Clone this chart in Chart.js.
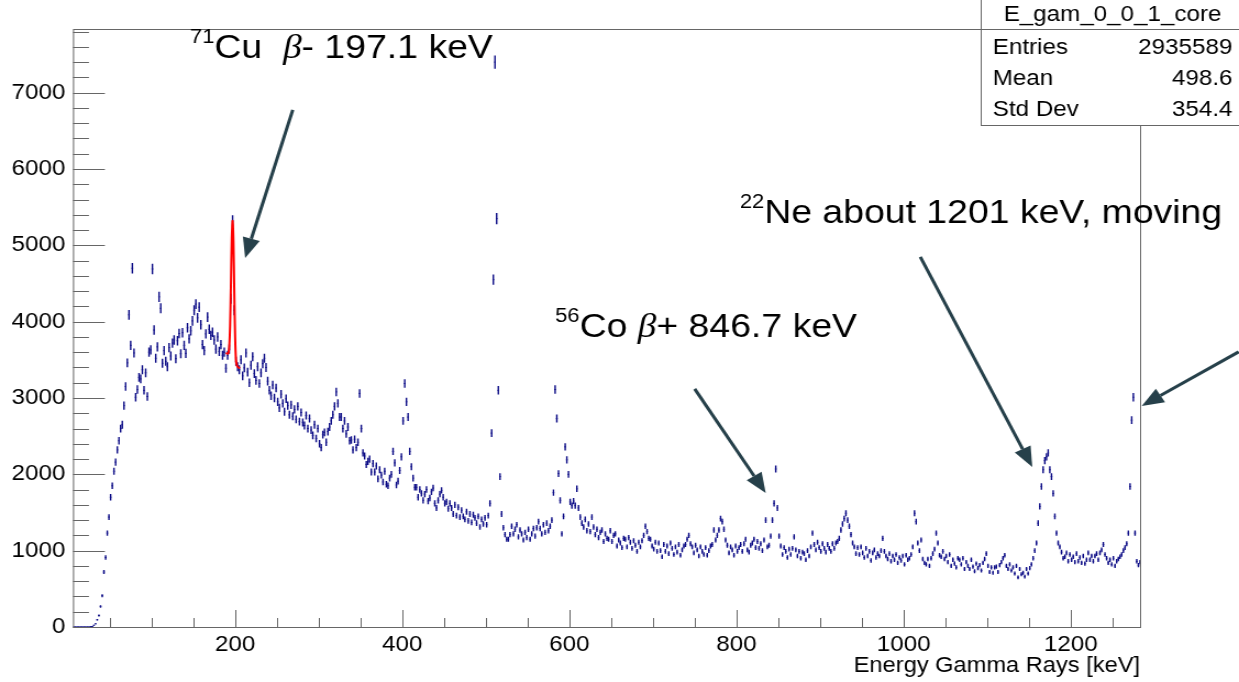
<!DOCTYPE html>
<html>
<head>
<meta charset="utf-8">
<script src="https://cdn.jsdelivr.net/npm/chart.js@4.4.0/dist/chart.umd.min.js"></script>
<style>
  html, body { margin: 0; padding: 0; background: #fff; overflow: hidden; }
  /* the reference picture is a bit wider than it is tall, so stretch the canvas sideways */
  #wrap { width: 1127px; height: 682px; transform: scaleX(1.09938); transform-origin: 0 0; }
</style>
</head>
<body>
<div id="wrap"><canvas id="spectrum"></canvas></div>
<script>
// 2 keV bins, centres 7, 9, 11 ... keV
const binStart = 7;
const binWidth = 2;

const counts7to205 = [
  0, 0, 0, 0, 0, 0, 0, 0, 0, 0,
  3, 6, 22, 41, 95, 150, 270, 410, 720, 910,
  1230, 1440, 1700, 1850, 2040, 2160, 2320, 2440, 2600, 2650,
  2900, 3150, 3460, 4090, 3690, 4700, 3590, 3010, 3110, 3270,
  3250, 3370, 3100, 3330, 3020, 3600, 3630, 4690, 3890, 3520,
  3670, 4325, 4175, 3455, 3620, 3480, 3410, 3660, 3550, 3720,
  3760, 3515, 3750, 3845, 3580, 3855, 3690, 3585, 3920, 3775,
  3880, 4010, 4150, 4230, 4050, 4190, 3960, 3700, 3620, 3840,
  4060, 3900, 3820, 3860, 3760, 3640, 3800, 3610, 3700, 3560,
  3600, 3390, 3560, 3640, 4300, 5320, 4150, 3480, 3410, 3370
];
const counts207to405 = [
  3500, 3290, 3395, 3590, 3340, 3200, 3430, 3540, 3320, 3230,
  3410, 3190, 3330, 3450, 3520, 3400, 3220, 3100, 3030, 3170,
  3000, 3130, 2950, 2870, 3050, 2930, 2820, 2990, 2900, 2780,
  2910, 2760, 2850, 2720, 2890, 2690, 2810, 2680, 2640, 2770,
  2600, 2730, 2580, 2510, 2650, 2470, 2600, 2400, 2350, 2520,
  2550, 2420, 2560, 2620, 2700, 2780, 2890, 3080, 2930, 2750,
  2750, 2600, 2700, 2530, 2620, 2440, 2450, 2320, 2460, 2350,
  2420, 3060, 2600, 2280, 2240, 2130, 2170, 2200, 2030, 2140,
  2030, 2110, 1940, 2060, 1990, 1900, 2040, 1870, 1850, 1950,
  2000, 2300, 2150, 1860, 1910, 2050, 2230, 2700, 3190, 2950
];
const counts407to605 = [
  2750, 2300, 2100, 1950, 1830, 1830, 1700, 1800, 1750, 1660,
  1740, 1800, 1650, 1690, 1770, 1820, 1620, 1560, 1660, 1740,
  1790, 1700, 1620, 1640, 1550, 1620, 1560, 1480, 1600, 1460,
  1570, 1440, 1530, 1450, 1410, 1510, 1390, 1480, 1370, 1470,
  1430, 1360, 1450, 1310, 1410, 1350, 1430, 1340, 1460, 1620,
  2540, 4550, 7400, 5350, 3100, 1970, 1480, 1300, 1210, 1150,
  1150, 1210, 1320, 1220, 1280, 1340, 1180, 1270, 1220, 1140,
  1240, 1170, 1280, 1150, 1220, 1290, 1190, 1300, 1380, 1290,
  1220, 1340, 1240, 1360, 1260, 1320, 1400, 1760, 3110, 2730,
  2010, 1660, 1220, 1450, 2360, 2190, 2000, 1640, 1590, 1650
];
const counts607to805 = [
  1590, 1810, 1560, 1440, 1360, 1310, 1410, 1260, 1350, 1250,
  1440, 1310, 1210, 1280, 1170, 1240, 1270, 1120, 1220, 1160,
  1150, 1260, 1120, 1200, 1220, 1060, 1140, 1100, 1040, 1160,
  1150, 1050, 1170, 1110, 1030, 1130, 1070, 990, 1110, 1050,
  1130, 1200, 1320, 1250, 1160, 1150, 1060, 1020, 1110, 990,
  1100, 1000, 920, 1080, 990, 1060, 960, 1100, 1030, 950,
  1050, 980, 1080, 940, 1010, 1060, 1080, 1150, 1200, 1090,
  1050, 970, 1070, 1010, 930, 1050, 990, 950, 1040, 940,
  1000, 1060, 1080, 1270, 1140, 1200, 1270, 1420, 1380, 1280,
  1140, 1070, 970, 1050, 1010, 940, 1060, 990, 1040, 1080
];
const counts807to1005 = [
  990, 1090, 1150, 1010, 980, 1070, 1100, 1150, 1040, 1120,
  1030, 1090, 1000, 1140, 1400, 1050, 1070, 1190, 1400, 1620,
  2070, 1560, 1190, 1060, 950, 1040, 990, 910, 1020, 950,
  1030, 1180, 1010, 930, 990, 900, 980, 960, 880, 1000,
  930, 1050, 1230, 1080, 1010, 1110, 1040, 990, 1090, 1030,
  980, 1080, 1030, 990, 1090, 1030, 1100, 1120, 1160, 1270,
  1350, 1420, 1490, 1400, 1320, 1210, 1100, 1050, 960, 1040,
  950, 1050, 970, 910, 1030, 930, 990, 870, 970, 1010,
  910, 960, 930, 1000, 1160, 990, 930, 890, 960, 860,
  930, 880, 950, 840, 910, 870, 930, 820, 940, 880
];
const counts1007to1205 = [
  900, 950, 1050, 1490, 1380, 1100, 1000, 1140, 890, 840,
  820, 890, 800, 900, 960, 1020, 1230, 1100, 940, 920,
  990, 890, 930, 850, 950, 800, 880, 830, 780, 900,
  880, 820, 900, 760, 850, 800, 760, 880, 790, 730,
  830, 770, 810, 740, 840, 890, 960, 800, 720, 780,
  710, 780, 790, 720, 810, 850, 900, 940, 800, 760,
  820, 740, 780, 700, 800, 650, 760, 690, 710, 660,
  760, 700, 770, 820, 900, 1000, 1100, 1360, 1580, 1840,
  2060, 2180, 2230, 2280, 2060, 1970, 1750, 1450, 1230, 1100,
  1050, 980, 900, 920, 970, 860, 950, 880, 920, 850
];
const counts1207to1283 = [
  960, 860, 910, 840, 930, 830, 880, 970, 880, 930,
  860, 930, 960, 880, 970, 1010, 1080, 950, 900, 840,
  880, 820, 900, 800, 860, 890, 920, 950, 1000, 1040,
  1090, 1230, 1840, 2710, 3010, 1230, 860, 810, 850
];

// red fit around the 197 keV line
const fitEnergy = [189, 190, 191, 192, 193, 194, 195, 196, 197, 198, 199, 200, 201, 202, 203, 204, 205, 206];
const fitCounts = [3590, 3585, 3580, 3590, 3680, 3950, 4500, 5100, 5320, 5050, 4400, 3800, 3500, 3430, 3410, 3400, 3395, 3390];

const xTickValues = [200, 400, 600, 800, 1000, 1200];
const yTickValues = [0, 1000, 2000, 3000, 4000, 5000, 6000, 7000];

const statsTitle = "E_gam_0_0_1_core";
const statsLabels = ["Entries", "Mean", "Std Dev"];
const statsValues = ["2935589", "498.6", "354.4"];

const allCounts = [].concat(counts7to205, counts207to405, counts407to605,
  counts607to805, counts807to1005, counts1007to1205, counts1207to1283);
const histPoints = allCounts.map((c, i) => ({ x: binStart + i * binWidth, y: c }));
const fitPoints = fitEnergy.map((e, i) => ({ x: e, y: fitCounts[i] }));

const FONT = '"Liberation Sans", Arial, sans-serif';
const frameColour = "#666";
const arrowColour = "#26404a";
const histColour = "#0a0a85";

// annotations, placed in data units (keV, counts)
const notes = [
  { sup: "71", parts: [["Cu  ", false], ["\u03b2", true], ["- 197.1 keV", false]], at: [146, 7450] },
  { sup: "56", parts: [["Co ", false], ["\u03b2", true], ["+ 846.7 keV", false]], at: [583, 3800] },
  { sup: "22", parts: [["Ne about 1201 keV, moving", false]], at: [804, 5290] }
];
const arrows = [
  { from: [269, 6775], to: [212, 4835] },
  { from: [750, 3120], to: [835, 1755] },
  { from: [1020, 4850], to: [1154, 2095] },
  { from: [1401, 3605], to: [1285, 2895] }
];

function drawArrow(ctx, x0, y0, x1, y1) {
  const ang = Math.atan2(y1 - y0, x1 - x0);
  const hl = 20, hw = 8;
  const bx = x1 - hl * Math.cos(ang), by = y1 - hl * Math.sin(ang);
  ctx.beginPath();
  ctx.moveTo(x0, y0);
  ctx.lineTo(bx, by);
  ctx.stroke();
  ctx.beginPath();
  ctx.moveTo(x1, y1);
  ctx.lineTo(bx + hw * Math.sin(ang), by - hw * Math.cos(ang));
  ctx.lineTo(bx - hw * Math.sin(ang), by + hw * Math.cos(ang));
  ctx.closePath();
  ctx.fill();
}

const rootLook = {
  id: "rootLook",
  afterDatasetsDraw(chart) {
    const { ctx, chartArea: a, scales: { x, y } } = chart;
    ctx.save();
    ctx.strokeStyle = frameColour;
    ctx.lineWidth = 1;
    ctx.strokeRect(a.left + 0.5, a.top + 0.5, a.right - a.left, a.bottom - a.top);
    ctx.beginPath();
    // ticks point into the frame, like ROOT
    for (let v = 0; v <= y.max; v += 200) {
      const p = Math.round(y.getPixelForValue(v)) + 0.5;
      const len = v % 1000 === 0 ? 29 : 14.5;
      ctx.moveTo(a.left, p);
      ctx.lineTo(a.left + len, p);
    }
    for (let v = 50; v <= x.max; v += 50) {
      const p = Math.round(x.getPixelForValue(v)) + 0.5;
      const len = v % 200 === 0 ? 17 : 9;
      ctx.moveTo(p, a.bottom);
      ctx.lineTo(p, a.bottom - len);
    }
    ctx.stroke();
    ctx.restore();
  },
  afterDraw(chart) {
    const { ctx, scales: { x, y } } = chart;
    ctx.save();
    // arrows
    ctx.strokeStyle = arrowColour;
    ctx.fillStyle = arrowColour;
    ctx.lineWidth = 3;
    arrows.forEach(ar => {
      drawArrow(ctx, x.getPixelForValue(ar.from[0]), y.getPixelForValue(ar.from[1]),
        x.getPixelForValue(ar.to[0]), y.getPixelForValue(ar.to[1]));
    });
    // labels
    ctx.fillStyle = "#000";
    ctx.textBaseline = "alphabetic";
    ctx.textAlign = "left";
    notes.forEach(n => {
      const px = x.getPixelForValue(n.at[0]);
      const py = y.getPixelForValue(n.at[1]);
      ctx.font = "20px " + FONT;
      ctx.fillText(n.sup, px, py - 15);
      let cx = px + ctx.measureText(n.sup).width;
      n.parts.forEach(([t, it]) => {
        ctx.font = it ? 'italic 34px "Liberation Serif", serif' : "34px " + FONT;
        ctx.fillText(t, cx, py);
        cx += ctx.measureText(t).width;
      });
    });
    // stats box
    const bx = 892.5, W = chart.width;
    ctx.fillStyle = "#fff";
    ctx.fillRect(bx, -2, W - bx + 2, 127);
    ctx.strokeStyle = frameColour;
    ctx.lineWidth = 1;
    ctx.strokeRect(bx, -2, W - bx + 4, 127.5);
    ctx.beginPath();
    ctx.moveTo(bx, 29.5);
    ctx.lineTo(W, 29.5);
    ctx.stroke();
    ctx.fillStyle = "#000";
    ctx.font = "22px " + FONT;
    ctx.textBaseline = "middle";
    ctx.textAlign = "center";
    ctx.fillText(statsTitle, 1012, 15);
    statsLabels.forEach((lab, i) => {
      const ty = 48 + i * 31;
      ctx.textAlign = "left";
      ctx.fillText(lab, 903, ty);
      ctx.textAlign = "right";
      ctx.fillText(statsValues[i], 1121, ty);
    });
    ctx.restore();
  }
};

const ctxSpectrum = document.getElementById("spectrum").getContext("2d");

const spectrumChart = new Chart(ctxSpectrum, {
  type: "scatter",
  data: {
    datasets: [
      {
        type: "line",
        label: "fit",
        data: fitPoints,
        borderColor: "#ff0000",
        borderWidth: 2,
        pointRadius: 0,
        tension: 0.3,
        fill: false
      },
      {
        // vertical error bars: +- sqrt(N), through the y scale
        label: "E_gam_0_0_1_core",
        data: histPoints,
        pointStyle: "line",
        rotation: 90,
        borderColor: histColour,
        borderWidth: 1.4,
        pointRadius: (c) => {
          const s = c.chart.scales.y;
          const v = c.raw ? c.raw.y : 0;
          return Math.max(0.5, s.getPixelForValue(0) - s.getPixelForValue(Math.sqrt(v)));
        },
        showLine: false
      },
      {
        // horizontal bars: bin width, through the x scale
        label: "bin width",
        data: histPoints,
        pointStyle: "line",
        rotation: 0,
        borderColor: histColour,
        borderWidth: 1,
        pointRadius: (c) => {
          const s = c.chart.scales.x;
          return s.getPixelForValue(binWidth / 2) - s.getPixelForValue(0);
        },
        showLine: false
      }
    ]
  },
  options: {
    responsive: true,
    maintainAspectRatio: false,
    animation: false,
    events: [],
    layout: { padding: { top: 29, right: 90, bottom: 0, left: 0 } },
    plugins: { legend: { display: false }, tooltip: { enabled: false } },
    scales: {
      x: {
        type: "linear",
        min: 6,
        max: 1283,
        grid: { display: false, drawTicks: false },
        border: { display: false },
        afterBuildTicks: (s) => { s.ticks = xTickValues.map(v => ({ value: v })); },
        afterFit: (s) => { s.height = 55; },
        ticks: {
          autoSkip: false,
          maxRotation: 0,
          padding: 5,
          color: "#000",
          font: { family: FONT, size: 22 },
          callback: (v) => String(v)
        },
        title: {
          display: true,
          text: "Energy Gamma Rays [keV]",
          align: "end",
          color: "#000",
          padding: { top: 0, bottom: 3 },
          font: { family: FONT, size: 21.5 }
        }
      },
      y: {
        min: 0,
        max: 7834,
        grid: { display: false, drawTicks: false },
        border: { display: false },
        afterBuildTicks: (s) => { s.ticks = yTickValues.map(v => ({ value: v })); },
        afterFit: (s) => { s.width = 66.4; },
        ticks: {
          padding: 7,
          color: "#000",
          font: { family: FONT, size: 22 },
          callback: (v) => String(v)
        }
      }
    }
  },
  plugins: [rootLook]
});
</script>
</body>
</html>
